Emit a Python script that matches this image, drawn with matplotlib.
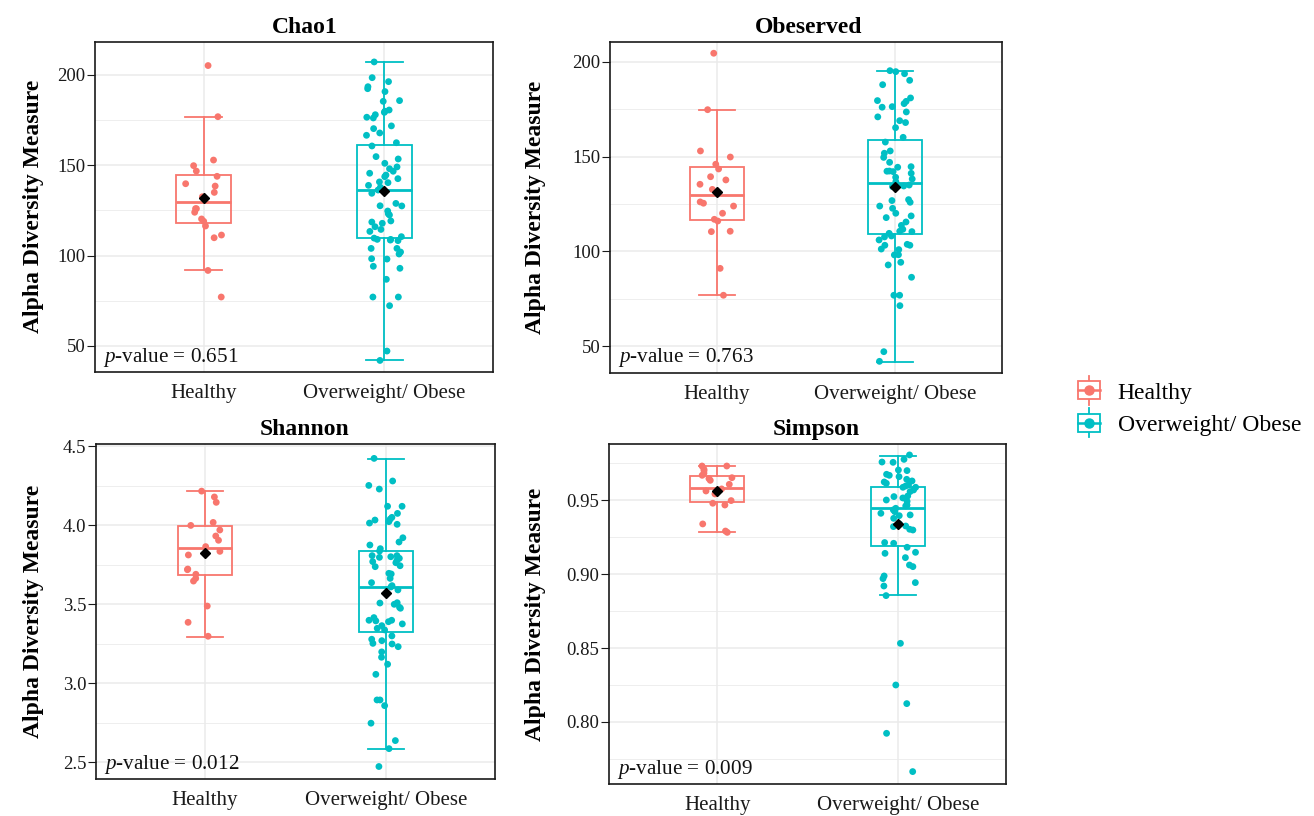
import numpy as np
import matplotlib
matplotlib.use('Agg')
import matplotlib.pyplot as plt
from matplotlib.legend_handler import HandlerBase
from matplotlib.lines import Line2D
from matplotlib.patches import Rectangle

plt.rcParams['font.family'] = ['Liberation Serif', 'DejaVu Serif']
plt.rcParams['mathtext.fontset'] = 'custom'
plt.rcParams['mathtext.it'] = 'Liberation Serif:italic'
plt.rcParams['mathtext.rm'] = 'Liberation Serif'

groups = ['Healthy', 'Overweight/ Obese']
colors = ['#F8766D', '#00BFC4']

# ---- Chao1 ----
chao1_healthy = [205.2, 176.9, 152.9, 149.8, 146.8, 143.9, 139.8, 138.5, 135.0, 132.6,
                 126.0, 126.0, 124.0, 120.3, 119.0, 116.4, 111.4, 109.9, 91.8, 77.1]
chao1_obese = [207.2, 198.5, 196.3, 193.5, 192.4, 190.8, 185.4, 185.8, 180.6, 179.9,
               179.3, 178.0, 176.6, 176.2, 171.8, 170.3, 167.9, 166.6, 162.5, 160.7,
               154.8, 153.5, 151.1, 149.1, 148.1, 146.7, 145.6, 144.6, 143.7, 142.6,
               140.8, 140.4, 138.9, 137.8, 136.3, 134.5, 128.9, 127.6, 127.5, 124.7,
               123.2, 122.5, 119.2, 118.6, 117.9, 116.0, 114.5, 113.4, 110.5, 109.7,
               109.0, 109.0, 108.3, 108.6, 104.0, 104.0, 102.0, 100.9, 98.1, 98.3,
               94.1, 93.0, 86.9, 77.1, 77.1, 72.3, 47.2, 42.0]
# whisker low, Q1, median, Q3, whisker high
chao1_box = [[91.8, 118.2, 129.5, 144.6, 176.9], [42.0, 109.9, 136.1, 161.4, 207.2]]
chao1_mean = [132.1, 135.6]

# ---- Obeserved ----
obs_healthy = [204.6, 174.8, 153.0, 149.8, 146.0, 143.5, 139.4, 137.7, 135.4, 132.7,
               126.1, 125.4, 123.9, 120.1, 116.9, 116.0, 110.6, 110.4, 91.0, 76.8]
obs_obese = [195.4, 194.9, 193.8, 190.3, 188.0, 181.0, 179.6, 178.0, 179.2, 176.1,
             176.4, 173.6, 171.0, 169.0, 168.0, 165.3, 160.2, 157.7, 151.8, 153.0,
             149.6, 147.0, 144.7, 144.4, 142.4, 142.3, 141.2, 142.1, 138.2, 139.1,
             136.8, 135.0, 134.5, 134.7, 134.2, 127.3, 126.8, 125.9, 123.9, 122.7,
             120.1, 118.7, 117.8, 115.5, 113.7, 111.6, 110.6, 110.4, 109.5, 108.1,
             107.6, 106.0, 103.2, 103.2, 103.7, 101.2, 100.9, 98.1, 98.2, 94.2,
             92.8, 86.3, 76.8, 76.8, 71.3, 47.0, 41.9]
obs_box = [[76.8, 116.4, 129.6, 144.5, 174.8], [41.5, 109.3, 135.9, 159.0, 195.1]]
obs_mean = [131.5, 134.2]

# ---- Shannon ----
shannon_healthy = [4.215, 4.178, 4.144, 4.017, 3.998, 3.969, 3.931, 3.904, 3.864, 3.834,
                   3.811, 3.722, 3.718, 3.689, 3.663, 3.646, 3.488, 3.385, 3.297]
shannon_obese = [4.422, 4.279, 4.251, 4.228, 4.119, 4.119, 4.074, 4.049, 4.038, 4.032,
                 4.022, 4.013, 4.005, 3.920, 3.893, 3.874, 3.851, 3.836, 3.807, 3.800,
                 3.807, 3.796, 3.790, 3.777, 3.769, 3.762, 3.743, 3.737, 3.695, 3.691,
                 3.663, 3.636, 3.617, 3.609, 3.590, 3.509, 3.507, 3.499, 3.480, 3.474,
                 3.415, 3.398, 3.398, 3.394, 3.389, 3.375, 3.364, 3.347, 3.337, 3.299,
                 3.278, 3.269, 3.252, 3.248, 3.231, 3.198, 3.164, 3.120, 3.056, 2.894,
                 2.894, 2.858, 2.747, 2.637, 2.586, 2.473]
shannon_box = [[3.295, 3.684, 3.855, 3.996, 4.213], [2.586, 3.324, 3.606, 3.838, 4.420]]
shannon_mean = [3.826, 3.571]

# ---- Simpson ----
simpson_healthy = [0.9732, 0.9732, 0.9710, 0.9701, 0.9683, 0.9669, 0.9653, 0.9647, 0.9635,
                   0.9608, 0.9577, 0.9563, 0.9543, 0.9498, 0.9480, 0.9468, 0.9340, 0.9292,
                   0.9283]
simpson_obese = [0.9807, 0.9777, 0.9757, 0.9759, 0.9705, 0.9701, 0.9676, 0.9669, 0.9660,
                 0.9642, 0.9631, 0.9624, 0.9615, 0.9604, 0.9588, 0.9597, 0.9588, 0.9570,
                 0.9559, 0.9529, 0.9525, 0.9516, 0.9502, 0.9493, 0.9468, 0.9462, 0.9446,
                 0.9435, 0.9423, 0.9412, 0.9401, 0.9396, 0.9378, 0.9340, 0.9326, 0.9322,
                 0.9304, 0.9299, 0.9209, 0.9214, 0.9182, 0.9148, 0.9141, 0.9112, 0.9062,
                 0.9051, 0.8988, 0.8970, 0.8943, 0.8920, 0.8855, 0.8532, 0.8250, 0.8124,
                 0.7923, 0.7664]
simpson_box = [[0.9286, 0.9491, 0.9581, 0.9667, 0.9730], [0.8857, 0.9193, 0.9448, 0.9588, 0.9800]]
simpson_mean = [0.9563, 0.9338]

titles = ['Chao1', 'Obeserved', 'Shannon', 'Simpson']
pvalues = ['0.651', '0.763', '0.012', '0.009']

W, H = 1314, 816
fig = plt.figure(figsize=(W / 100, H / 100), dpi=100)

# panel frames in pixels: left, top, right, bottom
frames = [(95, 41.7, 493, 372), (610, 41.7, 1002, 372.7),
          (96, 444, 495, 779), (609, 444, 1006, 784)]
label_x = [34, 535, 34, 535]
title_shift = [11, 3, 9.5, 8.5]
ylims = [(35.6, 218.4), (35.9, 210.7), (2.394, 4.513), (0.758, 0.9881)]
yticks = [[50, 100, 150, 200], [50, 100, 150, 200],
          [2.5, 3.0, 3.5, 4.0, 4.5], [0.80, 0.85, 0.90, 0.95]]
yminor = [[75, 125, 175], [75, 125, 175],
          [2.75, 3.25, 3.75, 4.25], [0.775, 0.825, 0.875, 0.925, 0.975]]
ylabels = [['50', '100', '150', '200'], ['50', '100', '150', '200'],
           ['2.5', '3.0', '3.5', '4.0', '4.5'], ['0.80', '0.85', '0.90', '0.95']]

data = [(chao1_healthy, chao1_obese, chao1_box, chao1_mean),
        (obs_healthy, obs_obese, obs_box, obs_mean),
        (shannon_healthy, shannon_obese, shannon_box, shannon_mean),
        (simpson_healthy, simpson_obese, simpson_box, simpson_mean)]

rng = np.random.default_rng(7)

for i, (l, t, r, b) in enumerate(frames):
    ax = fig.add_axes([l / W, 1 - b / H, (r - l) / W, (b - t) / H])
    healthy, obese, box, means = data[i]

    for j, vals in enumerate([healthy, obese]):
        c = colors[j]
        bs = box[j]
        stats = [dict(whislo=bs[0], q1=bs[1], med=bs[2], q3=bs[3], whishi=bs[4])]
        ax.bxp(stats, positions=[j + 1], widths=0.3, capwidths=0.2,
               showfliers=False, patch_artist=True, manage_ticks=False,
               boxprops=dict(facecolor='none', edgecolor=c, lw=1.3),
               whiskerprops=dict(color=c, lw=1.3),
               capprops=dict(color=c, lw=1.3),
               medianprops=dict(color=c, lw=2.0),
               zorder=2)
        xs = (j + 1) + rng.uniform(-0.1, 0.1, len(vals))
        ax.scatter(xs, vals, s=24, color=c, edgecolors='none', zorder=3)
        ax.plot([j + 1], [means[j]], marker='D', color='black', ms=4.8, ls='none', zorder=4)

    ax.set_xlim(0.4, 2.6)
    ax.set_ylim(*ylims[i])
    ax.set_axisbelow(True)
    ax.set_yticks(yticks[i])
    ax.set_yticklabels(ylabels[i])
    ax.set_yticks(yminor[i], minor=True)
    ax.set_xticks([1, 2])
    ax.set_xticklabels(groups)
    ax.grid(which='major', color='#EBEBEB', lw=1.1)
    ax.grid(which='minor', axis='y', color='#EBEBEB', lw=0.6)
    ax.tick_params(axis='x', length=0, pad=8.5, labelsize=15, colors='#1a1a1a')
    ax.tick_params(axis='y', which='major', length=5.5, width=0.8, pad=1.5,
                   labelsize=13.5, colors='#1a1a1a')
    ax.tick_params(axis='y', which='minor', length=0)
    for sp in ax.spines.values():
        sp.set_color('#1a1a1a')
        sp.set_linewidth(1.2)

    ax.set_title(titles[i], fontsize=17, fontweight='bold', pad=6.5,
                 x=0.5 + title_shift[i] / (r - l))
    ax.set_ylabel('Alpha Diversity Measure', fontsize=17, fontweight='bold', va='center')
    ax.yaxis.set_label_coords((label_x[i] - l) / (r - l), 0.5)
    ax.annotate(r'$\mathit{p}$-value = ' + pvalues[i], xy=(0, 0), xycoords='axes fraction',
                xytext=(5.5, 2.5), textcoords='offset points', ha='left', va='bottom',
                fontsize=15.2, color='#111111')


class BoxDotHandler(HandlerBase):
    def create_artists(self, legend, orig_handle, xdescent, ydescent, width, height,
                       fontsize, trans):
        c = orig_handle.get_color()
        cx = width / 2 - xdescent
        cy = height / 2 - ydescent
        bw, bh = 16, 13
        wh = Line2D([cx, cx], [cy - bh / 2 - 4, cy + bh / 2 + 4], color=c, lw=1.3,
                    transform=trans)
        rect = Rectangle((cx - bw / 2, cy - bh / 2), bw, bh, facecolor='white',
                         edgecolor=c, lw=1.3, transform=trans)
        med = Line2D([cx - bw / 2, cx + bw / 2], [cy, cy], color=c, lw=1.8, transform=trans)
        dot = Line2D([cx], [cy], marker='o', ms=6.5, color=c, ls='none', transform=trans)
        return [wh, rect, med, dot]


handles = [Line2D([], [], color=c) for c in colors]
fig.legend(handles, groups, handler_map={Line2D: BoxDotHandler()},
           loc='center left', bbox_to_anchor=(1074 / W, 1 - 409 / H), frameon=False,
           fontsize=17, handlelength=1.3, handletextpad=0.55, labelspacing=0.45,
           borderpad=0, borderaxespad=0)

fig.savefig('out.png', dpi=100, facecolor='white')
